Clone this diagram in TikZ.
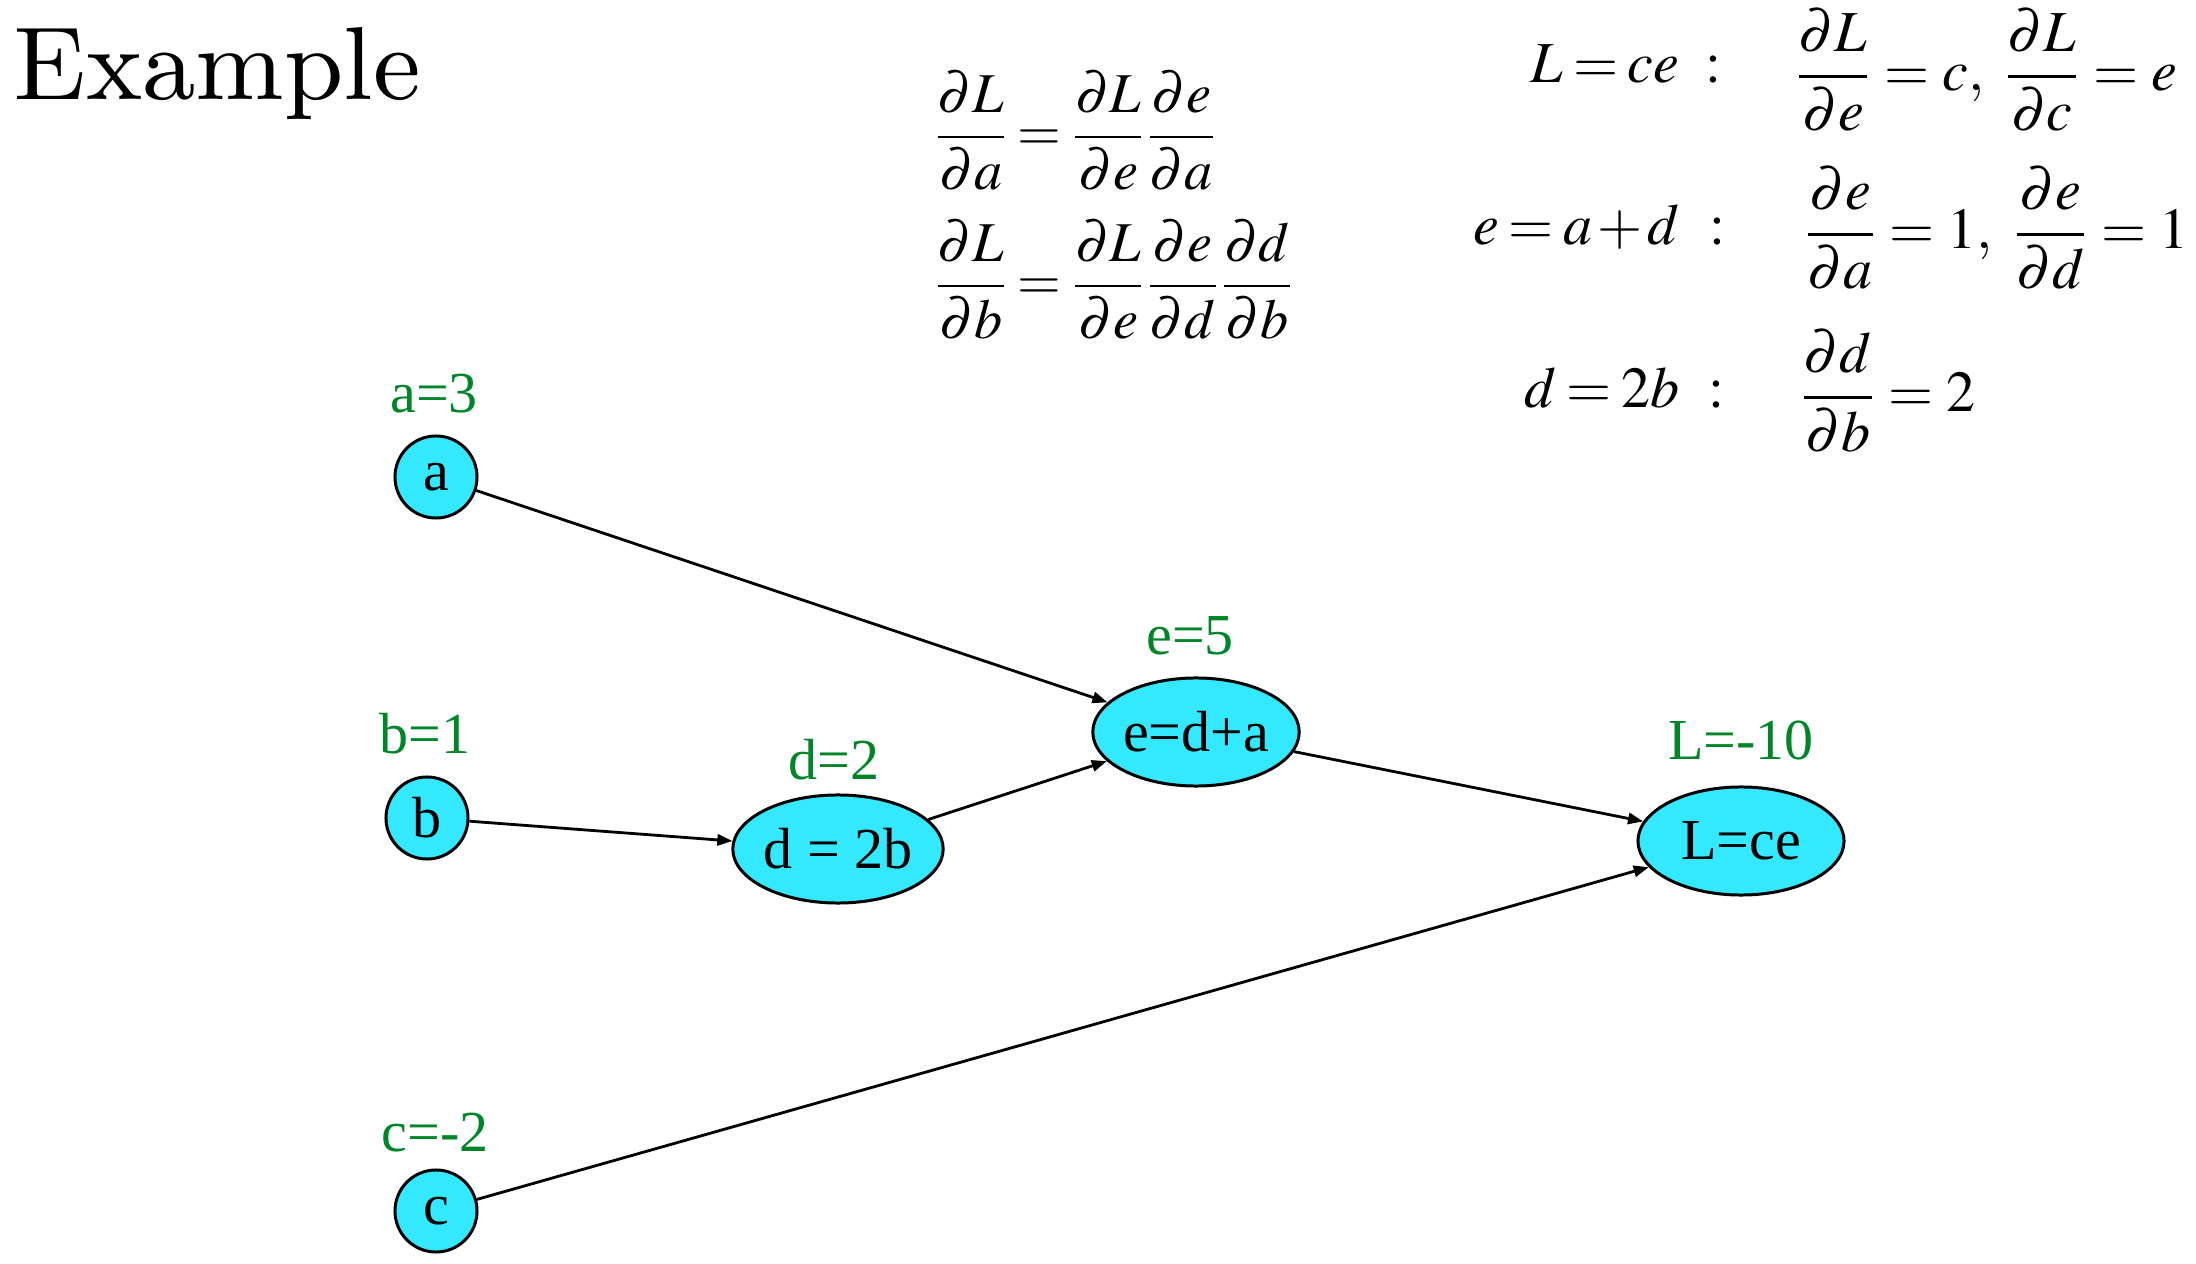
\documentclass[tikz,border=0pt]{standalone}
\usepackage{amsmath}
\usepackage{mathptmx}
\usepackage[no-math]{fontspec}
\usepackage{tikz}
\usetikzlibrary{shapes.geometric, arrows.meta, positioning}
\usepackage{xcolor}
\renewcommand{\rmdefault}{lmr}
\newfontfamily\tnr{Liberation Serif}
\newfontfamily\titlefont{lmroman9-regular.otf}
\definecolor{nodecolor}{RGB}{51,232,255}
\definecolor{valcolor}{RGB}{0,134,40}

\begin{document}
\begin{tikzpicture}[x=0.01cm, y=-0.01cm,
    var/.style={circle, draw, line width=0.85pt, fill=nodecolor, minimum size=0.82cm, inner sep=0pt, font=\tnr\fontsize{16.5}{18}\selectfont},
    op/.style={ellipse, draw, line width=0.85pt, fill=nodecolor, minimum width=2.06cm, minimum height=1.08cm, inner sep=0pt, font=\tnr\fontsize{16.5}{18}\selectfont},
    val/.style={anchor=base, inner sep=0pt, text=valcolor, font=\tnr\fontsize{16.5}{18}\selectfont},
    eq/.style={inner sep=0pt, font=\fontsize{16.5}{18}\selectfont},
    chain/.style={inner sep=0pt, font=\fontsize{16}{18}\selectfont},
    arrow/.style={-{Triangle[length=4.3pt, width=3.2pt]}, line width=0.8pt}
]
\useasboundingbox (0,0) rectangle (2196,1264);
\node[anchor=base west, inner sep=0pt, font=\titlefont\fontsize{29.5}{32}\selectfont] (title) at (13,100) {Example};

% chain rule
\node[chain, anchor=base west] (chainA) at (933,151) {$\dfrac{\partial L}{\partial a}\mkern-1mu=\mkern-1mu\dfrac{\partial L}{\partial e}\dfrac{\partial e}{\partial a}$};
\node[chain, anchor=base west] (chainB) at (933,300) {$\dfrac{\partial L}{\partial b}\mkern-1mu=\mkern-1mu\dfrac{\partial L}{\partial e}\dfrac{\partial e}{\partial d}\dfrac{\partial d}{\partial b}$};

% local derivatives
\node[eq, anchor=base east] (lossEq) at (1680,83) {$L\mkern-1mu=\mkern-1mu ce$};
\node[eq, anchor=base] (lossColon) at (1714,83) {$:$};
\node[eq, anchor=base west] (lossGrad) at (1794,91) {$\dfrac{\partial L}{\partial e}=c,\;\dfrac{\partial L}{\partial c}=e$};
\node[eq, anchor=base east] (sumEq) at (1680,245) {$e\mkern-1mu=\mkern-1mu a\mkern-1mu+\mkern-1mu d$};
\node[eq, anchor=base] (sumColon) at (1718,245) {$:$};
\node[eq, anchor=base west] (sumGrad) at (1803,249) {$\dfrac{\partial e}{\partial a}=1,\;\dfrac{\partial e}{\partial d}=1$};
\node[eq, anchor=base east] (dblEq) at (1680,408) {$d\mkern-1mu=\mkern-1mu 2b$};
\node[eq, anchor=base] (dblColon) at (1717,408) {$:$};
\node[eq, anchor=base west] (dblGrad) at (1799,412) {$\dfrac{\partial d}{\partial b}=2$};

% graph
\node[var] (a) at (436,477) {a};
\node[var] (b) at (427,818) {b};
\node[var] (c) at (436,1211) {c};
\node[op] (d) at (838,849) {d = 2b};
\node[op] (e) at (1196,732) {e=d+a};
\node[op] (L) at (1741,841) {L=ce};

\node[val] (aval) at (434,413) {a=3};
\node[val] (bval) at (425,753) {b=1};
\node[val] (cval) at (435,1151) {c=-2};
\node[val] (dval) at (834,780) {d=2};
\node[val] (eval) at (1190,655) {e=5};
\node[val] (Lval) at (1741,759) {L=-10};

\draw[arrow] (a) -- (e);
\draw[arrow] (b) -- (d);
\draw[arrow] (d) -- (e);
\draw[arrow] (e) -- (L);
\draw[arrow] (c) -- (L);
\end{tikzpicture}
\end{document}
